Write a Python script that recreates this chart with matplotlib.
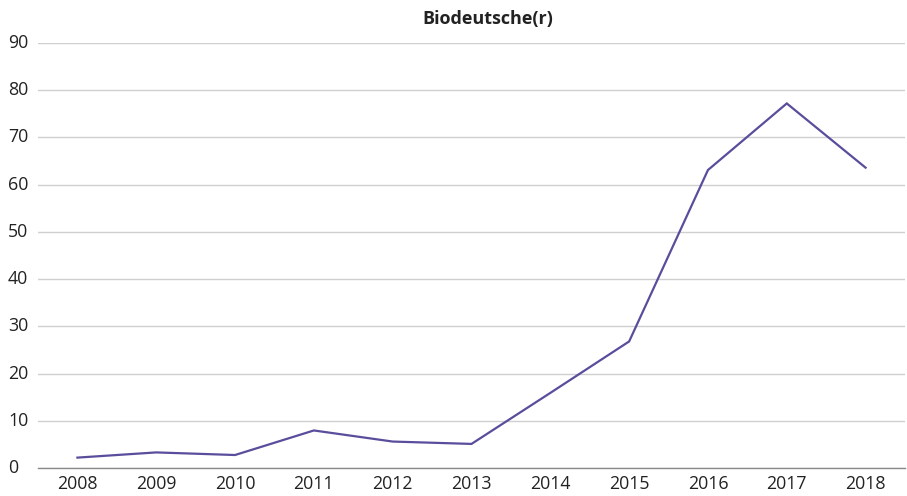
import matplotlib
matplotlib.use("Agg")
import matplotlib.pyplot as plt
import matplotlib.transforms as mtransforms

years = ["2008", "2009", "2010", "2011", "2012", "2013",
         "2014", "2015", "2016", "2017", "2018"]
values = [2.2, 3.3, 2.75, 7.95, 5.6, 5.1, 15.9, 26.8, 63.1, 77.2, 63.6]
yticks = [0, 10, 20, 30, 40, 50, 60, 70, 80, 90]
title = "Biodeutsche(r)"

plt.rcParams['font.family'] = ['Open Sans', 'DejaVu Sans']

fig = plt.figure(figsize=(9.07, 4.96), dpi=100)
ax = fig.add_axes([38 / 907, 1 - 468 / 496, (905 - 38) / 907, (468 - 43) / 496])

x = list(range(len(years)))
ax.plot(x, values, color="#5a4d9c", linewidth=1.6, solid_joinstyle="miter")

ax.set_xlim(-0.5, len(years) - 0.5)
ax.set_ylim(0, 90)
ax.set_yticks(yticks)
ax.set_yticklabels([])
ax.set_xticks(x)
ax.set_xticklabels(years)

ax.yaxis.grid(True, color="#cfcfcf", linewidth=1.0)
ax.set_axisbelow(True)
for side in ["top", "right", "left"]:
    ax.spines[side].set_visible(False)
ax.spines["bottom"].set_color("#8a8a8a")
ax.spines["bottom"].set_linewidth(1.0)

ax.tick_params(axis="both", length=0, labelsize=12.8, colors="#222222")
ax.tick_params(axis="x", pad=5)

# y labels are left aligned near the figure edge
trans = mtransforms.blended_transform_factory(fig.transFigure, ax.transData)
for v in yticks:
    ax.text(8 / 907, v, str(v), transform=trans, ha="left", va="center",
            fontsize=12.8, color="#222222")

# title sits a bit right of the plot centre
fig.text(488 / 907, 1 - 24 / 496, title, ha="center", va="baseline",
         fontsize=13, fontweight="bold", color="#222222")

fig.savefig("out.png", dpi=100)
